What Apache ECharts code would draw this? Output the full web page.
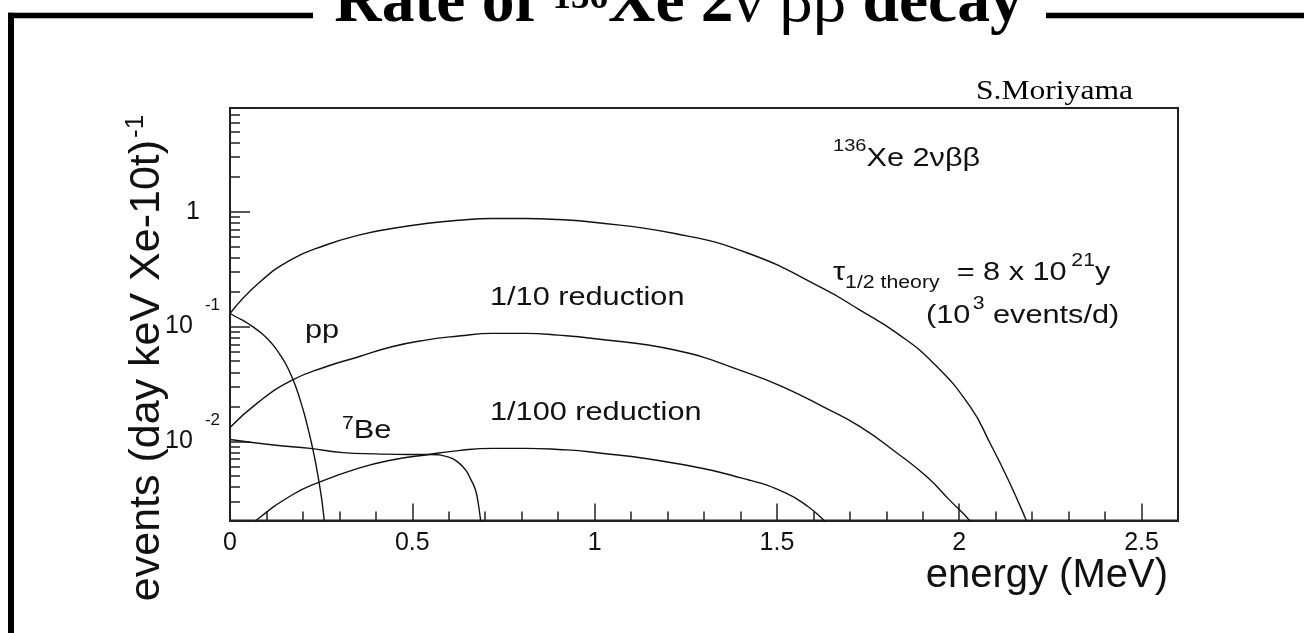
<!DOCTYPE html>
<html><head><meta charset="utf-8">
<script src="https://cdn.jsdelivr.net/npm/echarts@6/dist/echarts.min.js"></script>
<style>html,body{margin:0;padding:0;background:#fff}#c{width:1304px;height:633px}</style>
</head><body><div id="c"></div>
<script>
// ---- data ----
const xTickLabels = ['0', '0.5', '1', '1.5', '2', '2.5'];
const yTickExponents = [-2, -1, 0];

const fullEnergy = [0, 0.078, 0.169, 0.261, 0.353, 0.444, 0.536, 0.627, 0.719, 0.81, 0.90, 0.99, 1.22, 1.423, 1.626, 1.728, 1.83, 1.93, 2.03, 2.085, 2.135, 2.18, 2.2];
const fullRate = [0.130, 0.238, 0.385, 0.511, 0.625, 0.714, 0.789, 0.843, 0.872, 0.872, 0.855, 0.815, 0.646, 0.433, 0.215, 0.139, 0.0873, 0.0478, 0.0201, 0.0096, 0.0046, 0.0022, 0.0015];

const tenthEnergy = [0, 0.078, 0.169, 0.261, 0.353, 0.444, 0.536, 0.627, 0.719, 0.81, 0.90, 0.99, 1.22, 1.423, 1.525, 1.626, 1.728, 1.83, 1.912, 1.973, 2.029, 2.05];
const tenthRate = [0.0132, 0.022, 0.034, 0.0445, 0.0546, 0.0668, 0.0763, 0.0827, 0.0872, 0.0872, 0.0842, 0.0792, 0.0625, 0.0392, 0.029, 0.0201, 0.01345, 0.0079, 0.0049, 0.0031, 0.00204, 0.0016];

const hundredthEnergy = [0.04, 0.073, 0.169, 0.243, 0.353, 0.444, 0.536, 0.627, 0.719, 0.81, 0.90, 0.99, 1.22, 1.423, 1.525, 1.586, 1.63, 1.66];
const hundredthRate = [0.0016, 0.00207, 0.0034, 0.0044, 0.00585, 0.0069, 0.00763, 0.00832, 0.00871, 0.00871, 0.00852, 0.0081, 0.00646, 0.00462, 0.00355, 0.0027, 0.00204, 0.0016];

const ppEnergy = [0, 0.02, 0.04, 0.06, 0.08, 0.10, 0.12, 0.14, 0.16, 0.18, 0.20, 0.21, 0.22, 0.23, 0.24, 0.25, 0.255, 0.26, 0.265];
const ppRate = [0.130, 0.120, 0.111, 0.101, 0.0908, 0.0798, 0.0679, 0.0552, 0.0427, 0.0302, 0.0191, 0.0146, 0.0108, 0.00776, 0.00531, 0.00339, 0.00257, 0.00186, 0.00132];

const beEnergy = [0, 0.12, 0.22, 0.31, 0.4, 0.49, 0.55, 0.6, 0.625, 0.646, 0.66, 0.673, 0.68, 0.687, 0.693];
const beRate = [0.0104, 0.0093, 0.0087, 0.0080, 0.0078, 0.0077, 0.0077, 0.0073, 0.0066, 0.00565, 0.0047, 0.0038, 0.0030, 0.0021, 0.0015];

// ---- chart ----
const SANS = '"Liberation Sans", Arial, Helvetica, sans-serif';
const SERIF = '"Liberation Serif", "Times New Roman", serif';

function pairs(xs, ys) { return xs.map((x, i) => [x, ys[i]]); }
function curve(name, xs, ys) {
  return {
    name, type: 'line', data: pairs(xs, ys), showSymbol: false, symbol: 'none',
    smooth: 0.5, clip: true, silent: true,
    lineStyle: { color: '#111', width: 1.4 }
  };
}

const chart = echarts.init(document.getElementById('c'), null, { renderer: 'canvas' });
const annScale = 1.18;

chart.setOption({
  animation: false,
  backgroundColor: '#fff',
  grid: { left: 230, top: 108, width: 948, height: 412.5, show: true, borderColor: '#222', borderWidth: 2, backgroundColor: 'transparent' },
  xAxis: {
    type: 'value', min: 0, max: 2.6, interval: 0.5,
    axisLine: { show: true, lineStyle: { color: '#222', width: 2 } },
    axisTick: { show: true, inside: true, length: 17, lineStyle: { color: '#222', width: 1.5 } },
    minorTick: { show: true, splitNumber: 5, length: 9, lineStyle: { color: '#222', width: 1.5 } },
    splitLine: { show: false },
    axisLabel: {
      margin: 10, fontSize: 25, fontFamily: SANS, color: '#111', showMaxLabel: false,
      formatter: function (v) {
        const k = Math.round(v / 0.5);
        if (Math.abs(v - k * 0.5) > 1e-9) return '';
        return xTickLabels[k] || '';
      }
    }
  },
  yAxis: {
    type: 'log', logBase: 10, min: 0.00205, max: 8,
    axisLine: { show: true, lineStyle: { color: '#222', width: 2 } },
    axisTick: { show: true, inside: true, length: 20, lineStyle: { color: '#222', width: 1.5 } },
    minorTick: { show: true, splitNumber: 9, length: 10, lineStyle: { color: '#222', width: 1.5 } },
    splitLine: { show: false },
    axisLabel: {
      margin: 10, color: '#111', showMinLabel: false, showMaxLabel: false,
      formatter: function (v) {
        const e = Math.log10(v), r = Math.round(e);
        if (Math.abs(e - r) > 1e-6 || yTickExponents.indexOf(r) < 0) return '';
        if (r === 0) return '{one|1}';
        return '{b|10}{s|' + r + '}';
      },
      rich: {
        one: { fontSize: 25, fontFamily: SANS, color: '#111', padding: [0, 20, 0, 0] },
        b: { fontSize: 25, fontFamily: SANS, color: '#111' },
        s: { fontSize: 17, fontFamily: SANS, color: '#111', padding: [0, 0, 42, 12] }
      }
    }
  },
  series: [
    curve('2vbb', fullEnergy, fullRate),
    curve('1/10', tenthEnergy, tenthRate),
    curve('1/100', hundredthEnergy, hundredthRate),
    curve('pp', ppEnergy, ppRate),
    curve('7Be', beEnergy, beRate)
  ],
  graphic: [
    // frame
    { type: 'line', shape: { x1: 8, y1: 15.5, x2: 313, y2: 15.5 }, style: { stroke: '#000', lineWidth: 5.5 }, silent: true },
    { type: 'line', shape: { x1: 1046, y1: 15.5, x2: 1304, y2: 15.5 }, style: { stroke: '#000', lineWidth: 5.5 }, silent: true },
    { type: 'line', shape: { x1: 11, y1: 12.8, x2: 11, y2: 633 }, style: { stroke: '#000', lineWidth: 6 }, silent: true },
    // title
    { type: 'text', x: 678.5, y: 4, silent: true, style: {
        text: '{t|Rate of }{sup|136}{t|Xe 2}{g|ν ββ}{t| decay}', align: 'center', verticalAlign: 'middle', fill: '#000',
        rich: {
          t: { fontSize: 65.5, fontWeight: 'bold', fontFamily: SERIF, fill: '#000' },
          sup: { fontSize: 37, fontWeight: 'bold', fontFamily: SERIF, fill: '#000', padding: [0, 0, 12, 0] },
          g: { fontSize: 65.5, fontWeight: 'normal', fontFamily: SERIF, fill: '#000' }
        } } },
    // author
    { type: 'text', x: 1133, y: 92, scaleX: 1.17, silent: true, style: {
        text: 'S.Moriyama', align: 'right', verticalAlign: 'middle', fontSize: 27, fontFamily: SERIF, fill: '#000' } },
    // axis titles
    { type: 'text', x: 147, y: 358, rotation: Math.PI / 2, silent: true, style: {
        text: '{m|events (day keV Xe-10t)}{s|-1}', align: 'center', verticalAlign: 'middle', fill: '#111',
        rich: {
          m: { fontSize: 43, fontFamily: SANS, fill: '#111' },
          s: { fontSize: 26, fontFamily: SANS, fill: '#111', padding: [0, 0, 22, 2] }
        } } },
    { type: 'text', x: 1168, y: 576, silent: true, style: {
        text: 'energy (MeV)', align: 'right', verticalAlign: 'middle', fontSize: 40, fontFamily: SANS, fill: '#111' } },
    // annotations
    { type: 'text', x: 833, y: 159, scaleX: annScale, silent: true, style: {
        text: '{s|136}{m|Xe 2νββ}', align: 'left', verticalAlign: 'middle', fill: '#111',
        rich: { m: { fontSize: 26, fontFamily: SANS, fill: '#111' }, s: { fontSize: 17, fontFamily: SANS, fill: '#111', padding: [0, 0, 26, 0] } } } },
    { type: 'text', x: 490, y: 298, scaleX: annScale, silent: true, style: {
        text: '1/10 reduction', align: 'left', verticalAlign: 'middle', fontSize: 26, fontFamily: SANS, fill: '#111' } },
    { type: 'text', x: 490, y: 413, scaleX: annScale, silent: true, style: {
        text: '1/100 reduction', align: 'left', verticalAlign: 'middle', fontSize: 26, fontFamily: SANS, fill: '#111' } },
    { type: 'text', x: 305, y: 331, scaleX: annScale, silent: true, style: {
        text: 'pp', align: 'left', verticalAlign: 'middle', fontSize: 26, fontFamily: SANS, fill: '#111' } },
    { type: 'text', x: 342, y: 431, scaleX: annScale, silent: true, style: {
        text: '{s|7}{m|Be}', align: 'left', verticalAlign: 'middle', fill: '#111',
        rich: { m: { fontSize: 26, fontFamily: SANS, fill: '#111' }, s: { fontSize: 18, fontFamily: SANS, fill: '#111', padding: [0, 0, 14, 0] } } } },
    { type: 'text', x: 833, y: 273, scaleX: annScale, silent: true, style: {
        text: '{m|τ}{b|1/2 theory}{m|  = 8 x 10}{s|21}{m|y}', align: 'left', verticalAlign: 'middle', fill: '#111',
        rich: {
          m: { fontSize: 26, fontFamily: SANS, fill: '#111' },
          b: { fontSize: 18, fontFamily: SANS, fill: '#111', padding: [20, 0, 0, 0] },
          s: { fontSize: 18, fontFamily: SANS, fill: '#111', padding: [0, 0, 24, 4] }
        } } },
    { type: 'text', x: 926, y: 316, scaleX: annScale, silent: true, style: {
        text: '{m|(10}{s|3}{m| events/d)}', align: 'left', verticalAlign: 'middle', fill: '#111',
        rich: {
          m: { fontSize: 26, fontFamily: SANS, fill: '#111' },
          s: { fontSize: 18, fontFamily: SANS, fill: '#111', padding: [0, 0, 24, 2] }
        } } }
  ]
});
</script>
</body></html>
